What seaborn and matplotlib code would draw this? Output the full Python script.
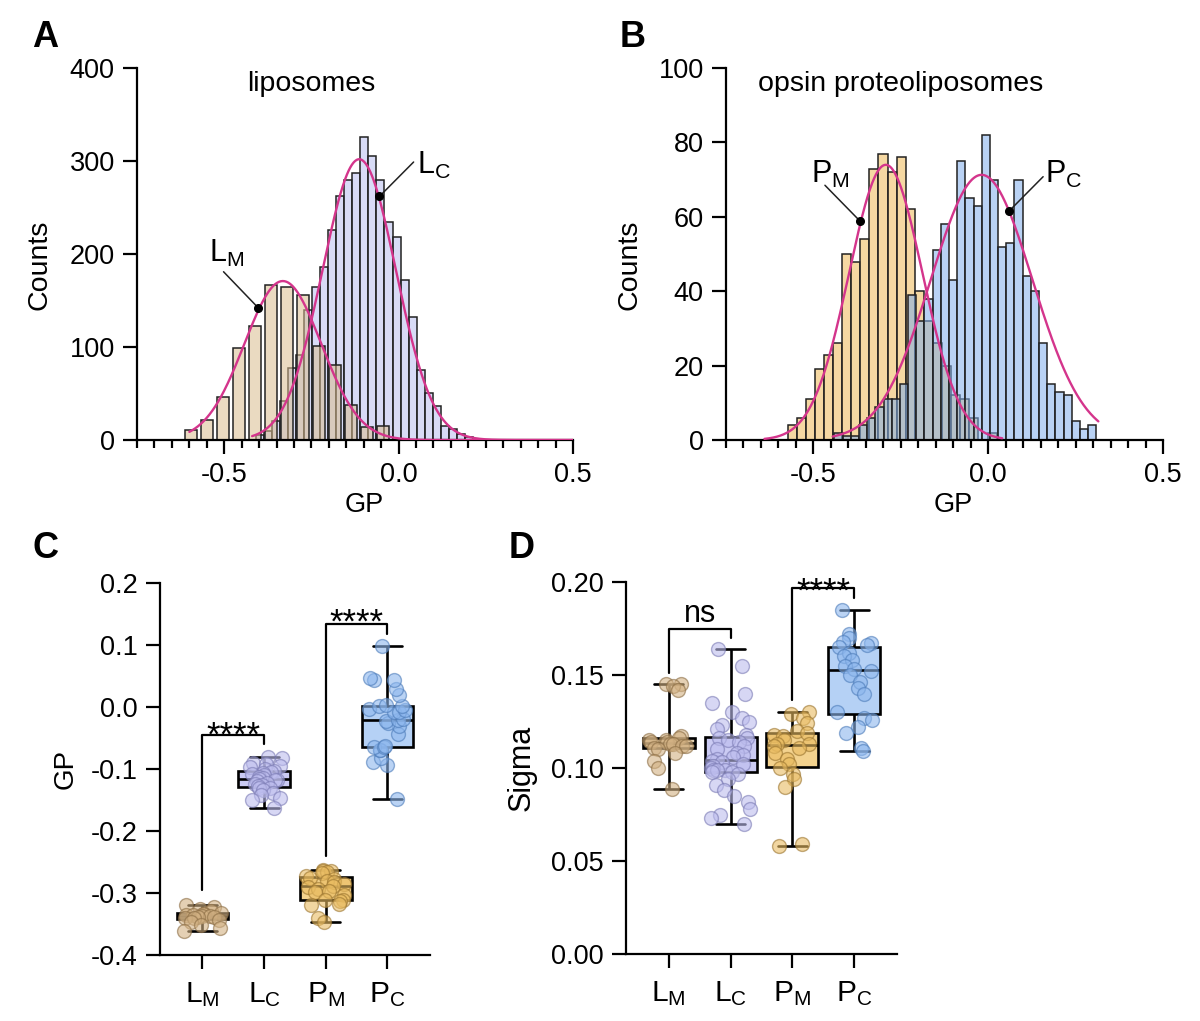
import numpy as np
import pandas as pd
import matplotlib
matplotlib.use("Agg")
import matplotlib.pyplot as plt
from matplotlib.ticker import MultipleLocator, FormatStrFormatter
import seaborn as sns

# ---------------- A: liposomes, GP histograms (bin centre, counts)
lm_gp = [-0.596, -0.550, -0.504, -0.458, -0.412, -0.366, -0.320, -0.274,
         -0.228, -0.182, -0.136, -0.090, -0.044]
lm_counts = [11, 22, 46, 99, 123, 167, 165, 156, 101, 81, 38, 14, 15]

lc_gp = [-0.397, -0.374, -0.351, -0.328, -0.305, -0.282, -0.259, -0.236,
         -0.213, -0.190, -0.167, -0.144, -0.121, -0.098, -0.075, -0.052,
         -0.029, -0.006, 0.017, 0.040, 0.063, 0.086, 0.109, 0.132, 0.155,
         0.178, 0.201]
lc_counts = [5, 10, 20, 42, 77, 92, 140, 165, 186, 226, 262, 280, 287, 326,
             305, 280, 235, 218, 172, 132, 75, 51, 37, 15, 12, 6, 3]

# ---------------- B: opsin proteoliposomes
pm_gp = [-0.561, -0.535, -0.509, -0.483, -0.457, -0.431, -0.405, -0.379,
         -0.353, -0.327, -0.301, -0.275, -0.249, -0.223, -0.197, -0.171,
         -0.145, -0.119, -0.093, -0.067, -0.041, -0.015, 0.011]
pm_counts = [4, 6, 11, 19, 23, 26, 50, 48, 54, 73, 77, 72, 76, 62, 40, 32,
             26, 20, 12, 11, 6, 0, 2]

pc_gp = [-0.428, -0.405, -0.381, -0.358, -0.334, -0.311, -0.288, -0.264,
         -0.241, -0.217, -0.194, -0.171, -0.147, -0.124, -0.100, -0.077,
         -0.054, -0.030, -0.007, 0.017, 0.040, 0.064, 0.087, 0.110, 0.134,
         0.157, 0.181, 0.204, 0.227, 0.251, 0.274, 0.298]
pc_counts = [2, 1, 1, 4, 6, 9, 11, 11, 15, 39, 32, 38, 51, 58, 43, 75, 65,
             63, 82, 70, 52, 53, 70, 44, 40, 26, 15, 13, 12, 5, 3, 4]

# gaussian fits: amplitude, mean, sigma, drawn from, drawn to
fit_lm = [171, -0.332, 0.110, -0.60, 0.50]
fit_lc = [302, -0.113, 0.105, -0.42, 0.50]
fit_pm = [74, -0.293, 0.105, -0.64, 0.04]
fit_pc = [71.3, -0.019, 0.145, -0.445, 0.315]

# ---------------- C: GP per vesicle
gp_lm = [-0.320, -0.323, -0.326, -0.329, -0.332, -0.333, -0.334, -0.335,
         -0.336, -0.337, -0.337, -0.338, -0.339, -0.340, -0.341, -0.343,
         -0.347, -0.352, -0.356, -0.361]
gp_lc = [-0.081, -0.082, -0.090, -0.092, -0.095, -0.097, -0.100, -0.103,
         -0.104, -0.106, -0.108, -0.110, -0.112, -0.114, -0.116, -0.117,
         -0.118, -0.120, -0.122, -0.124, -0.126, -0.128, -0.130, -0.131,
         -0.134, -0.138, -0.142, -0.146, -0.150, -0.163]
gp_pm = [-0.263, -0.264, -0.265, -0.266, -0.268, -0.272, -0.275, -0.278,
         -0.280, -0.282, -0.285, -0.288, -0.290, -0.294, -0.296, -0.298,
         -0.303, -0.311, -0.313, -0.312, -0.317, -0.320, -0.341, -0.346]
gp_pc = [-0.148, -0.094, -0.089, -0.082, -0.070, -0.070, -0.065, -0.064,
         -0.062, -0.044, -0.030, -0.025, -0.022, -0.021, -0.020, -0.008,
         -0.008, -0.005, -0.003, 0.001, 0.002, 0.003, 0.020, 0.029, 0.043,
         0.044, 0.047, 0.098]

# ---------------- D: sigma per vesicle
sig_lm = [0.145, 0.145, 0.144, 0.142, 0.117, 0.116, 0.115, 0.115, 0.114,
          0.114, 0.113, 0.113, 0.112, 0.112, 0.111, 0.110, 0.108, 0.104,
          0.100, 0.089]
sig_lc = [0.164, 0.155, 0.140, 0.135, 0.130, 0.127, 0.125, 0.123, 0.121,
          0.118, 0.116, 0.116, 0.115, 0.114, 0.112, 0.110, 0.108, 0.107,
          0.106, 0.105, 0.104, 0.103, 0.102, 0.101, 0.100, 0.099, 0.099,
          0.099, 0.098, 0.098, 0.097, 0.094, 0.091, 0.088, 0.085, 0.082,
          0.078, 0.075, 0.073, 0.070]
sig_pm = [0.130, 0.129, 0.127, 0.124, 0.120, 0.119, 0.118, 0.117, 0.115,
          0.113, 0.113, 0.112, 0.111, 0.108, 0.105, 0.102, 0.100, 0.097,
          0.094, 0.090, 0.059, 0.058]
sig_pc = [0.185, 0.172, 0.170, 0.168, 0.167, 0.166, 0.165, 0.162, 0.160,
          0.158, 0.155, 0.153, 0.152, 0.150, 0.146, 0.143, 0.140, 0.130,
          0.127, 0.126, 0.122, 0.119, 0.111, 0.109]

groups = ["LM", "LC", "PM", "PC"]
group_labels = [r"$L_M$", r"$L_C$", r"$P_M$", r"$P_C$"]

box_fill = {"LM": "#E6D3B3", "LC": "#CBCBF3", "PM": "#F3D28E", "PC": "#B5D1F5"}
pt_fill = {"LM": "#D2B183", "LC": "#BDBDEE", "PM": "#E9BC62", "PC": "#8DB7EE"}
pt_edge = {"LM": "#8C6E45", "LC": "#7C7CB5", "PM": "#9C7630", "PC": "#4E7DBA"}
FIT = "#D4358C"

sns.set_style("ticks")
plt.rcParams["font.family"] = ["Liberation Sans", "DejaVu Sans"]
plt.rcParams["mathtext.default"] = "regular"
plt.rcParams["axes.unicode_minus"] = False
for key in ("text.color", "axes.labelcolor", "xtick.color", "ytick.color",
            "axes.edgecolor"):
    plt.rcParams[key] = "black"

fig = plt.figure(figsize=(12, 10.21), dpi=100)
axA = fig.add_axes([0.1142, 0.5690, 0.3633, 0.3643])
axB = fig.add_axes([0.6050, 0.5690, 0.3642, 0.3643])
axC = fig.add_axes([0.1333, 0.0646, 0.2250, 0.3643])
axD = fig.add_axes([0.5217, 0.0656, 0.2258, 0.3643])


def style(ax):
    sns.despine(ax=ax)
    for s in ("left", "bottom"):
        ax.spines[s].set_linewidth(1.6)
    ax.tick_params(which="major", length=10, width=1.6, labelsize=19.5,
                   pad=6, color="black")
    ax.tick_params(which="minor", length=5.5, width=1.6, color="black")


def hist(ax, centers, counts, width, color, alpha, shrink=1.0):
    df = pd.DataFrame({"gp": centers, "n": counts})
    lo = centers[0] - width / 2
    hi = lo + width * len(centers)
    sns.histplot(data=df, x="gp", weights="n", binwidth=width,
                 binrange=(lo, hi), color=color, alpha=alpha,
                 edgecolor="#222222", linewidth=1.1, shrink=shrink, ax=ax)


def fit_curve(ax, amp, mu, sd, x0, x1):
    gx = np.linspace(x0, x1, 400)
    gy = amp * np.exp(-0.5 * ((gx - mu) / sd) ** 2)
    sns.lineplot(x=gx, y=gy, color=FIT, linewidth=1.7, ax=ax, zorder=4)


def callout(ax, label, dot, end, txt):
    ax.plot([dot[0], end[0]], [dot[1], end[1]], color="#222222", lw=1.1,
            zorder=5)
    ax.plot(dot[0], dot[1], "o", color="black", ms=5.5, zorder=6)
    ax.text(txt[0], txt[1], label, ha="center", va="center", fontsize=22,
            zorder=6)


def hist_axes(ax, ymax, ystep, title):
    ax.set_xlim(-0.75, 0.5)
    ax.set_ylim(0, ymax)
    ax.set_xticks([-0.5, 0.0, 0.5])
    ax.xaxis.set_major_formatter(FormatStrFormatter("%.1f"))
    ax.xaxis.set_minor_locator(MultipleLocator(0.05))
    ax.set_yticks(np.arange(0, ymax + 1, ystep))
    ax.set_xlabel("GP", fontsize=19.5)
    ax.set_ylabel("Counts", fontsize=20.5)
    ax.xaxis.set_label_coords(0.52, -0.14)
    ax.yaxis.set_label_coords(-0.195, 0.47)
    ax.text(0.40, 0.957, title, transform=ax.transAxes, ha="center",
            va="center", fontsize=20.5)
    style(ax)


# ---- A
hist(axA, lc_gp, lc_counts, 0.023, "#B9BEF0", 0.55)
hist(axA, lm_gp, lm_counts, 0.046, "#D9BC8E", 0.55, shrink=0.72)
fit_curve(axA, *fit_lm)
fit_curve(axA, *fit_lc)
callout(axA, r"$L_M$", (-0.402, 142), (-0.502, 181), (-0.492, 201))
callout(axA, r"$L_C$", (-0.055, 262), (0.043, 299), (0.100, 295))
hist_axes(axA, 400, 100, "liposomes")

# ---- B
hist(axB, pm_gp, pm_counts, 0.026, "#F0C470", 0.65)
hist(axB, pc_gp, pc_counts, 0.0234, "#80AEEB", 0.55)
fit_curve(axB, *fit_pm)
fit_curve(axB, *fit_pc)
callout(axB, r"$P_M$", (-0.367, 58.9), (-0.467, 68.5), (-0.452, 71.5))
callout(axB, r"$P_C$", (0.060, 61.6), (0.157, 70.8), (0.215, 71.5))
hist_axes(axB, 100, 20, "opsin proteoliposomes")
axB.yaxis.set_label_coords(-0.192, 0.47)


# ---- C and D
def box_panel(ax, values, ylim, yticks, fmt, ylabel, label_x, label_size):
    df = pd.DataFrame({
        "group": [g for g, v in zip(groups, values) for _ in v],
        "value": [x for v in values for x in v],
    })
    sns.boxplot(data=df, x="group", y="value", order=groups, hue="group",
                hue_order=groups, palette=box_fill, saturation=1, width=0.84,
                whis=(0, 100), showfliers=False, linecolor="black",
                linewidth=1.9, legend=False, capwidths=0.47, ax=ax)
    for g in groups:
        sns.stripplot(data=df[df["group"] == g], x="group", y="value",
                      order=groups, color=pt_fill[g], edgecolor=pt_edge[g],
                      linewidth=1.0, size=10, alpha=0.6, jitter=0.32,
                      ax=ax, zorder=3)
    ax.set_xlim(-0.69, 3.69)
    ax.set_ylim(*ylim)
    ax.set_yticks(yticks)
    ax.yaxis.set_major_formatter(FormatStrFormatter(fmt))
    ax.set_xticks(range(4))
    ax.set_xticklabels(group_labels)
    ax.set_xlabel("")
    ax.set_ylabel(ylabel, fontsize=label_size)
    ax.yaxis.set_label_coords(label_x, 0.5)
    style(ax)
    ax.tick_params(axis="x", labelsize=21.5, pad=8)


def bracket(ax, x0, x1, y_left, y_top, y_right, text, ty, fs):
    ax.plot([x0, x0, x1, x1], [y_left, y_top, y_top, y_right],
            color="black", lw=1.6, clip_on=False, zorder=5)
    ax.text((x0 + x1) / 2, ty, text, ha="center", va="baseline",
            fontsize=fs, clip_on=False)


np.random.seed(7)
box_panel(axC, [gp_lm, gp_lc, gp_pm, gp_pc], (-0.4, 0.2),
          [-0.4, -0.3, -0.2, -0.1, 0.0, 0.1, 0.2], "%.1f", "GP", -0.30, 20)
bracket(axC, 0, 1, -0.295, -0.045, -0.060, "****", -0.062, 25)
bracket(axC, 2, 3, -0.241, 0.134, 0.118, "****", 0.120, 25)

box_panel(axD, [sig_lm, sig_lc, sig_pm, sig_pc], (0, 0.2),
          [0.0, 0.05, 0.10, 0.15, 0.20], "%.2f", "Sigma", -0.33, 22)
bracket(axD, 0, 1, 0.151, 0.175, 0.170, "ns", 0.1785, 22)
bracket(axD, 2, 3, 0.1366, 0.1966, 0.1912, "****", 0.1895, 25)

# panel letters
for letter, x, y in [("A", 0.0375, 0.963), ("B", 0.527, 0.963),
                     ("C", 0.0375, 0.463), ("D", 0.435, 0.463)]:
    fig.text(x, y, letter, ha="center", va="center", fontsize=26,
             fontweight="bold")

fig.savefig("out.png", dpi=100)
